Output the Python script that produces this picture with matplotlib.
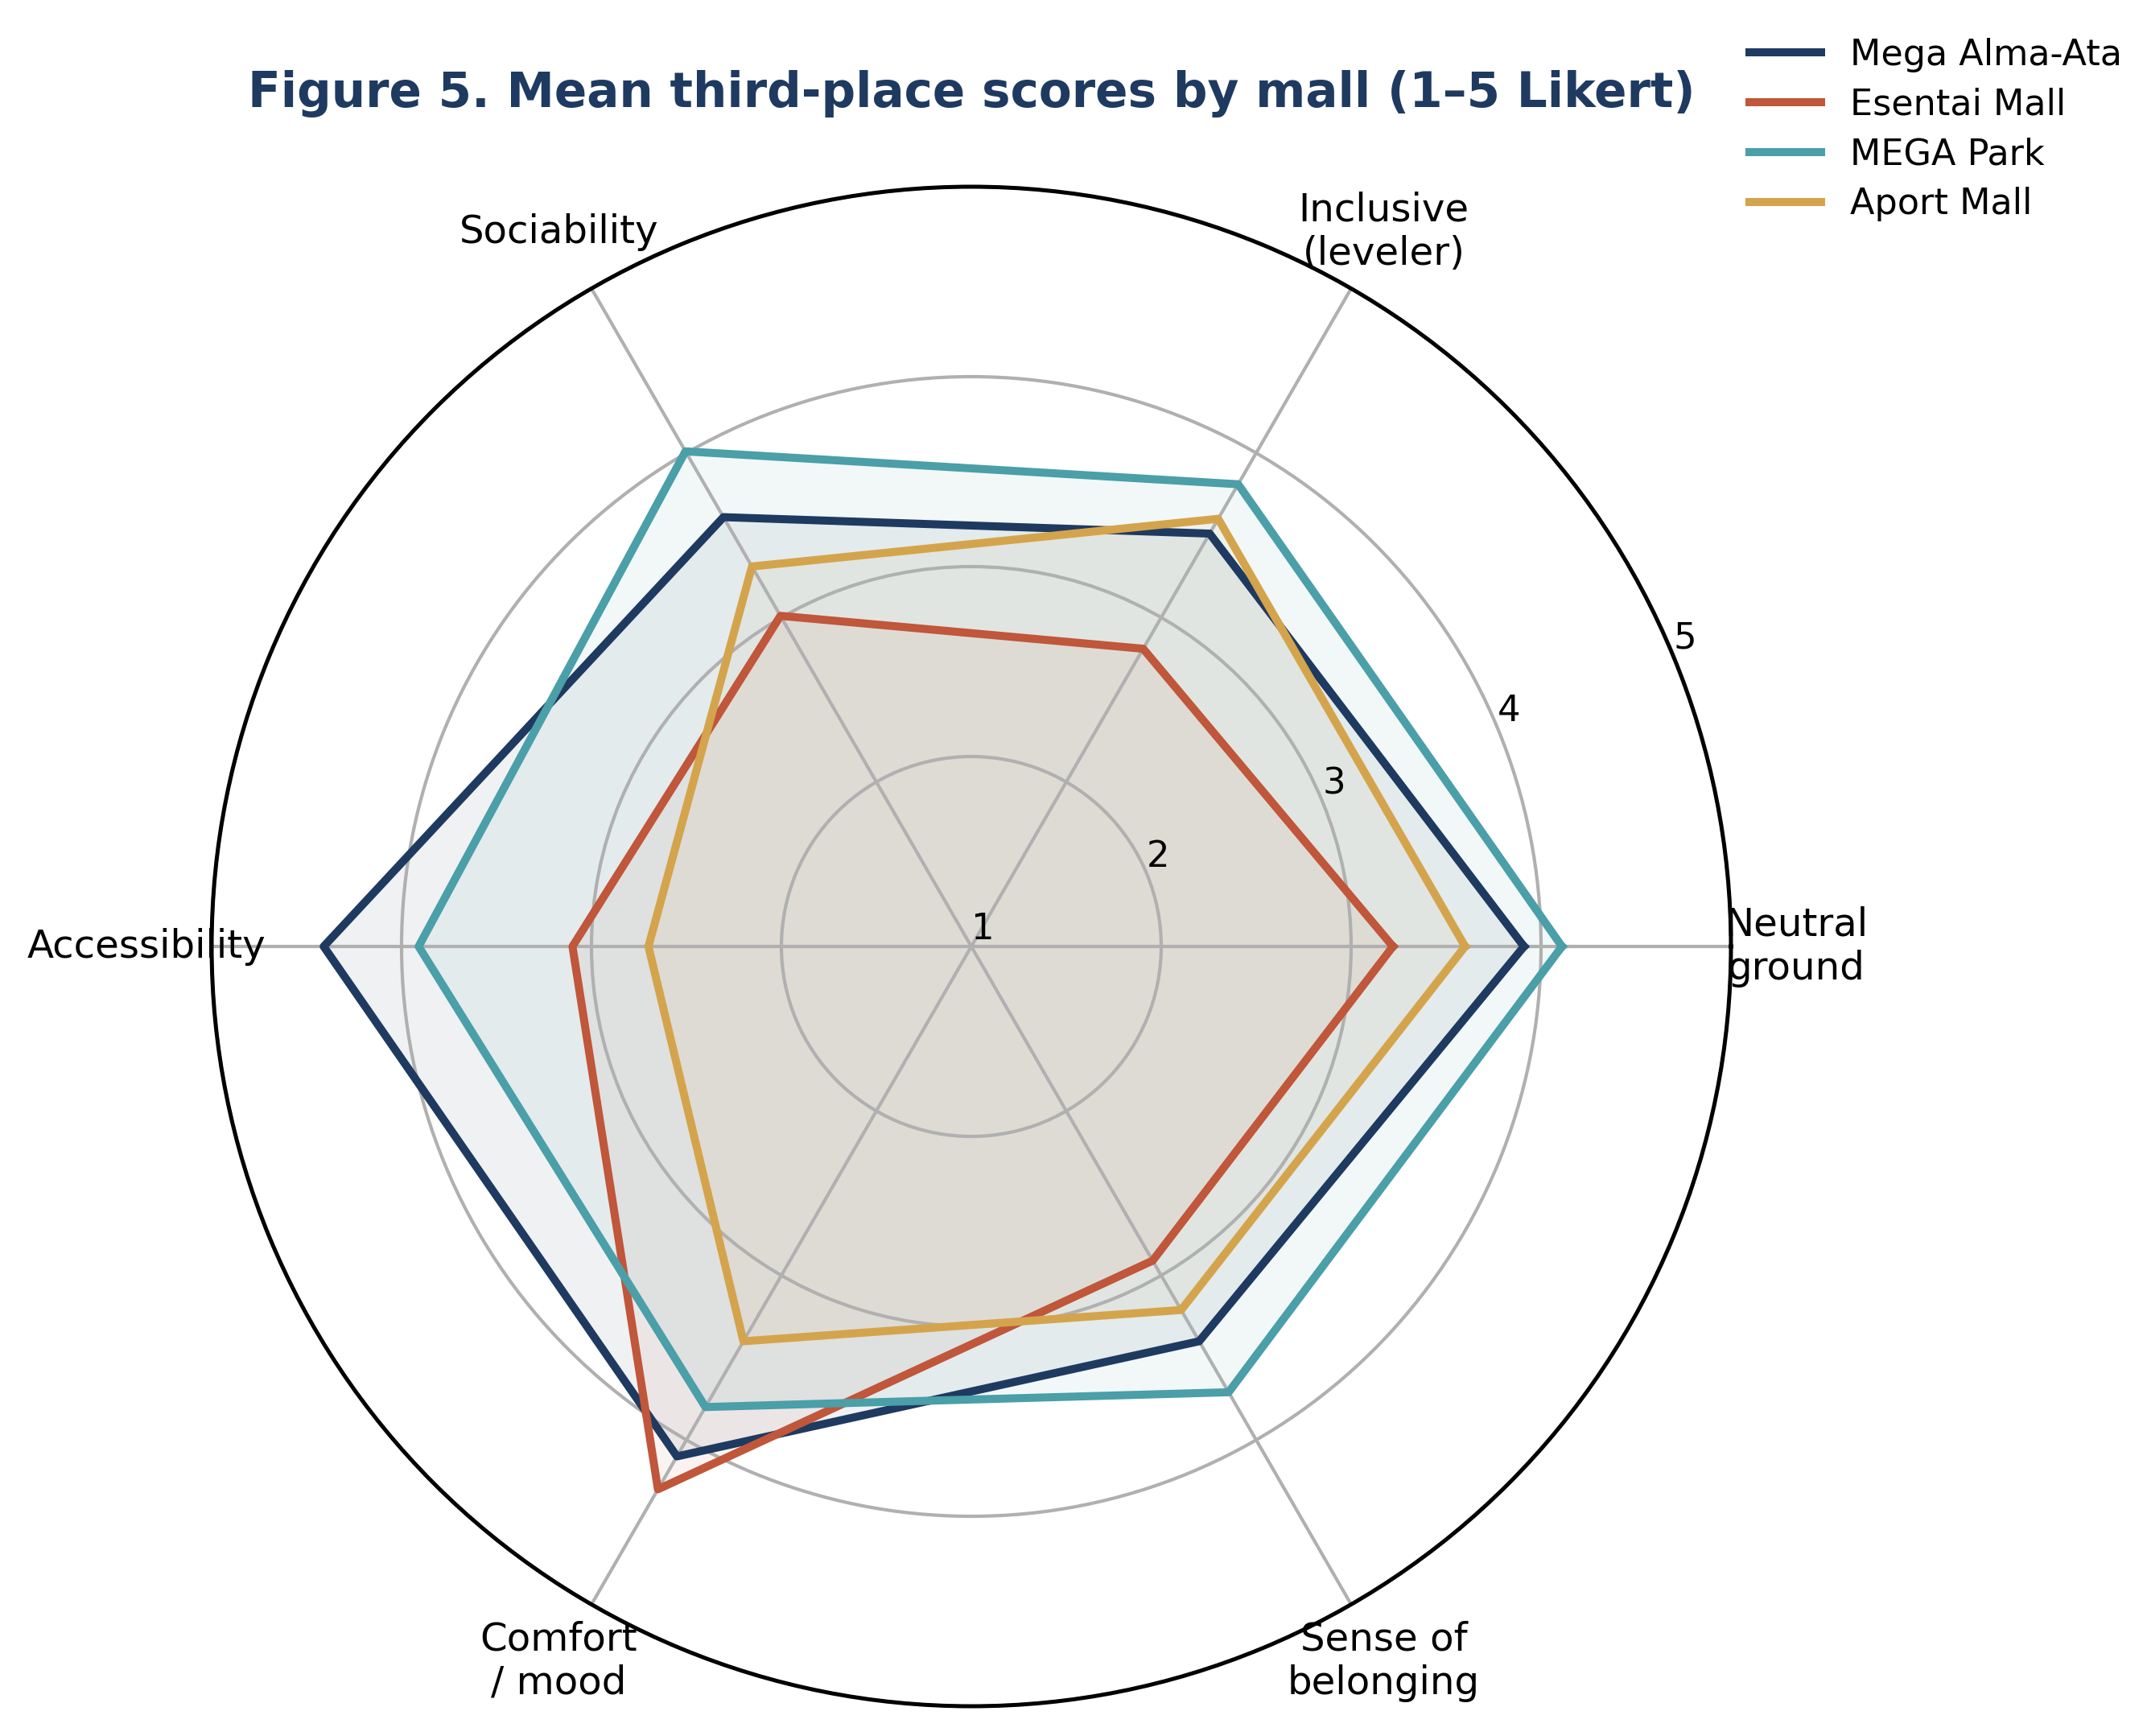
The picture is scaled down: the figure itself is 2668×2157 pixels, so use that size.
import numpy as np
import matplotlib
matplotlib.use('Agg')
import matplotlib.pyplot as plt

# 축 / 값 (1-5 Likert 평균)
categories = ['Neutral\nground', 'Inclusive\n(leveler)', 'Sociability', 'Accessibility',
              'Comfort\n/ mood', 'Sense of\nbelonging']
malls = ['Mega Alma-Ata', 'Esentai Mall', 'MEGA Park', 'Aport Mall']
mega_alma_ata = [3.91, 3.51, 3.61, 4.41, 4.10, 3.40]
esentai_mall = [3.22, 2.81, 3.01, 3.10, 4.30, 2.91]
mega_park = [4.11, 3.81, 4.01, 3.91, 3.80, 3.71]
aport_mall = [3.60, 3.60, 3.31, 2.70, 3.40, 3.21]
colors = ['#1f3a60', '#c0563a', '#4a9fa8', '#d4a44c']
r_ticks = [1, 2, 3, 4, 5]

series = [mega_alma_ata, esentai_mall, mega_park, aport_mall]

fig = plt.figure(figsize=(2668/300, 2157/300), dpi=300)
ax = fig.add_axes([263/2668, 37/2157, 1888/2668, 1888/2157], projection='polar')

angles = np.linspace(0, 2*np.pi, len(categories), endpoint=False)
angles_closed = np.concatenate([angles, angles[:1]])

for name, vals, c in zip(malls, series, colors):
    v = list(vals) + [vals[0]]
    ax.plot(angles_closed, v, color=c, linewidth=2.4, label=name)
    ax.fill(angles_closed, v, color=c, alpha=0.07)

ax.set_ylim(1, 5)
ax.set_yticks(r_ticks)
ax.set_yticklabels([str(t) for t in r_ticks], fontsize=10.8)
ax.set_xticks(angles)
ax.set_xticklabels(categories, fontsize=11.6)
ax.tick_params(axis='x', pad=9)
ax.grid(color='#b0b0b0', linewidth=1.0)
ax.spines['polar'].set_color('black')
ax.spines['polar'].set_linewidth(1.2)

fig.text(0.4524, 1 - 116/2157, 'Figure 5. Mean third-place scores by mall (1–5 Likert)',
         ha='center', va='center', fontsize=14.3, fontweight='bold', color='#1f3a60')

fig.legend(loc='upper right', bbox_to_anchor=(1.0034, 0.9968), frameon=False,
           fontsize=10.7, labelspacing=0.42)

fig.savefig('out.png', dpi=300)
